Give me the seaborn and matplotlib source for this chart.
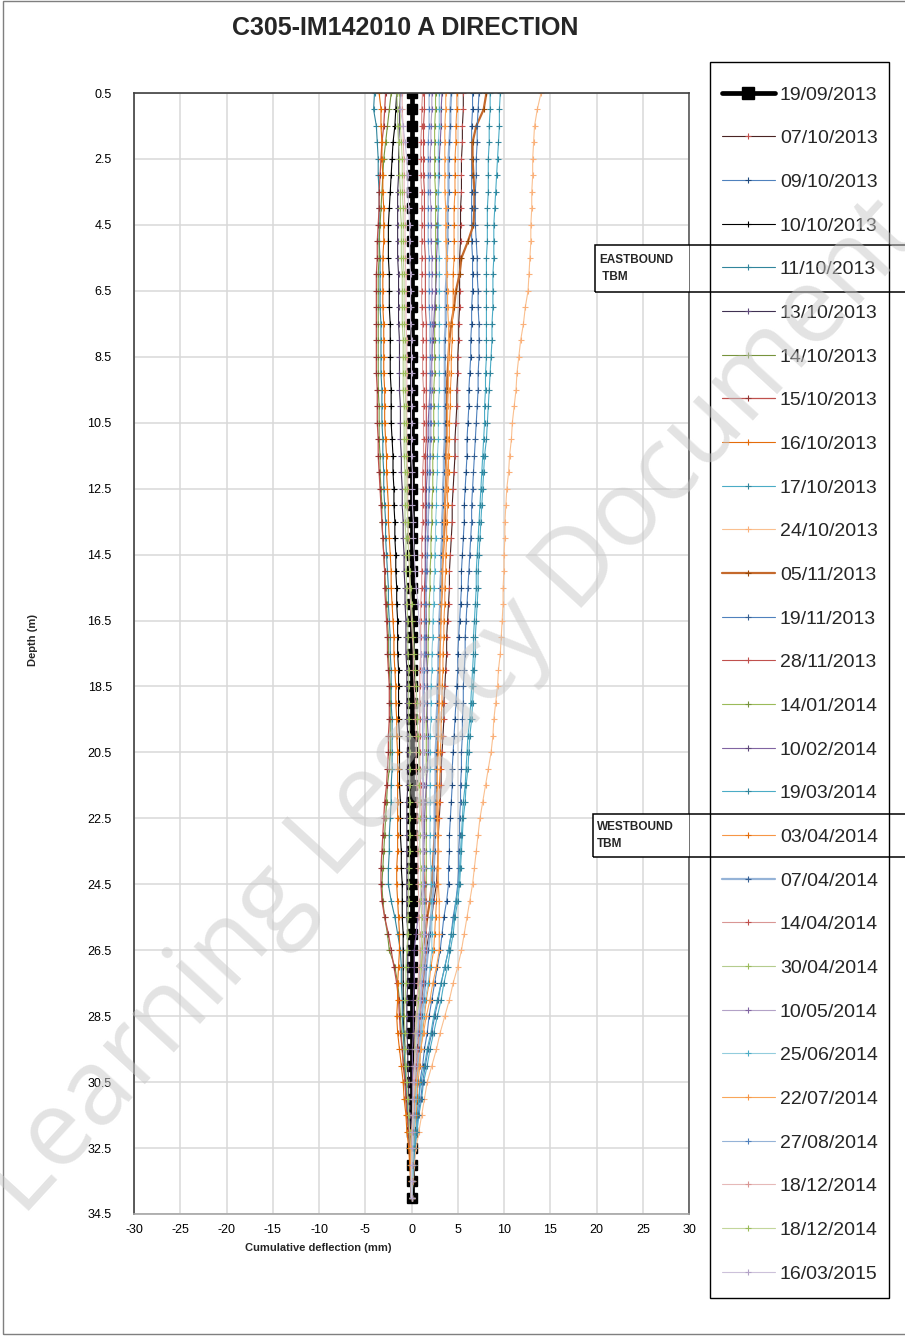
import numpy as np
import pandas as pd
import matplotlib
matplotlib.use("Agg")
import matplotlib.pyplot as plt
import seaborn as sns
from matplotlib.lines import Line2D
from matplotlib.patches import Rectangle

# reading depths (m), every 0.5 m from 0.5 to 34.0
DEPTH = np.arange(0.5, 34.01, 0.5)

DATES = ["19/09/2013", "07/10/2013", "09/10/2013", "10/10/2013", "11/10/2013",
         "13/10/2013", "14/10/2013", "15/10/2013", "16/10/2013", "17/10/2013",
         "24/10/2013", "05/11/2013", "19/11/2013", "28/11/2013", "14/01/2014",
         "10/02/2014", "19/03/2014", "03/04/2014", "07/04/2014", "14/04/2014",
         "30/04/2014", "10/05/2014", "25/06/2014", "22/07/2014", "27/08/2014",
         "18/12/2014", "18/12/2014", "16/03/2015"]

# cumulative deflection (mm) per reading, rows = 0.5-8.5 / 9-17 / 17.5-25.5 / 26-34 m
s19_09_13 = [0.0, 0.0, 0.0, 0.0, 0.0, 0.0, 0.0, 0.0, 0.0, 0.0, 0.0, 0.0, 0.0, 0.0, 0.0, 0.0, 0.0,
             0.0, 0.0, 0.0, 0.0, 0.0, 0.0, 0.0, 0.0, 0.0, 0.0, 0.0, 0.0, 0.0, 0.0, 0.0, 0.0, 0.0,
             0.0, 0.0, 0.0, 0.0, 0.0, 0.0, 0.0, 0.0, 0.0, 0.0, 0.0, 0.0, 0.0, 0.0, 0.0, 0.0, 0.0,
             0.0, 0.0, 0.0, 0.0, 0.0, 0.0, 0.0, 0.0, 0.0, 0.0, 0.0, 0.0, 0.0, 0.0, 0.0, 0.0, 0.0]
s07_10_13 = [5.6, 5.6, 5.5, 5.5, 5.4, 5.4, 5.4, 5.3, 5.3, 5.3, 5.2, 5.2, 5.2, 5.2, 5.1, 5.1, 5.0,
             5.0, 4.9, 4.9, 4.8, 4.7, 4.7, 4.6, 4.5, 4.4, 4.4, 4.3, 4.2, 4.1, 4.1, 4.0, 3.9, 3.8,
             3.8, 3.7, 3.6, 3.5, 3.5, 3.4, 3.3, 3.2, 3.2, 3.1, 3.0, 2.9, 2.9, 2.8, 2.7, 2.4, 2.2,
             1.9, 1.6, 1.4, 1.3, 1.1, 0.9, 0.8, 0.7, 0.5, 0.4, 0.3, 0.3, 0.2, 0.1, 0.1, 0.0, 0.0]
s09_10_13 = [6.6, 6.6, 6.5, 6.5, 6.5, 6.5, 6.5, 6.5, 6.5, 6.5, 6.6, 6.6, 6.6, 6.5, 6.5, 6.4, 6.4,
             6.3, 6.2, 6.2, 6.1, 6.0, 6.0, 5.9, 5.8, 5.7, 5.7, 5.6, 5.5, 5.4, 5.4, 5.3, 5.2, 5.1,
             5.0, 5.0, 4.9, 4.8, 4.7, 4.6, 4.5, 4.4, 4.4, 4.3, 4.2, 4.1, 4.1, 4.0, 4.0, 3.8, 3.5,
             3.3, 3.1, 2.8, 2.5, 2.2, 1.9, 1.7, 1.4, 1.2, 0.9, 0.8, 0.6, 0.5, 0.3, 0.2, 0.1, 0.0]
s10_10_13 = [-1.6, -1.7, -1.8, -2.0, -2.1, -2.2, -2.3, -2.4, -2.5, -2.5, -2.5, -2.4, -2.4, -2.4, -2.3, -2.3, -2.3,
             -2.3, -2.2, -2.2, -2.2, -2.1, -2.0, -2.0, -1.9, -1.9, -1.8, -1.8, -1.7, -1.7, -1.6, -1.6, -1.5, -1.5,
             -1.5, -1.4, -1.4, -1.4, -1.4, -1.3, -1.3, -1.3, -1.3, -1.2, -1.2, -1.2, -1.1, -1.1, -1.0, -1.0, -1.0,
             -0.9, -0.9, -0.9, -0.9, -0.9, -0.9, -0.8, -0.7, -0.7, -0.6, -0.5, -0.4, -0.3, -0.2, -0.1, -0.1, 0.0]
s11_10_13 = [-4.0, -4.1, -3.8, -3.7, -3.6, -3.6, -3.5, -3.5, -3.5, -3.5, -3.4, -3.4, -3.4, -3.4, -3.3, -3.3, -3.3,
             -3.3, -3.2, -3.2, -3.2, -3.1, -3.1, -3.0, -3.0, -2.9, -2.8, -2.8, -2.7, -2.6, -2.5, -2.5, -2.4, -2.3,
             -2.3, -2.2, -2.2, -2.2, -2.1, -2.1, -2.1, -2.1, -2.2, -2.2, -2.3, -2.4, -2.4, -2.5, -2.5, -2.2, -1.8,
             -1.5, -1.2, -1.1, -1.1, -1.0, -1.0, -0.9, -0.8, -0.7, -0.6, -0.5, -0.4, -0.3, -0.2, -0.1, -0.1, 0.0]
s13_10_13 = [-1.2, -1.3, -1.3, -1.4, -1.4, -1.4, -1.5, -1.5, -1.5, -1.5, -1.5, -1.4, -1.4, -1.4, -1.4, -1.3, -1.3,
             -1.3, -1.3, -1.2, -1.2, -1.2, -1.1, -1.1, -1.0, -1.0, -0.9, -0.9, -0.8, -0.8, -0.7, -0.7, -0.6, -0.6,
             -0.6, -0.5, -0.5, -0.5, -0.5, -0.4, -0.4, -0.4, -0.4, -0.5, -0.5, -0.5, -0.5, -0.5, -0.5, -0.5, -0.5,
             -0.4, -0.4, -0.4, -0.4, -0.5, -0.5, -0.5, -0.4, -0.4, -0.3, -0.3, -0.2, -0.2, -0.1, -0.1, 0.0, 0.0]
s14_10_13 = [-2.2, -2.4, -2.6, -2.8, -3.0, -3.1, -3.2, -3.3, -3.4, -3.5, -3.5, -3.6, -3.6, -3.6, -3.6, -3.6, -3.6,
             -3.6, -3.6, -3.5, -3.5, -3.5, -3.4, -3.4, -3.3, -3.2, -3.2, -3.1, -3.0, -2.9, -2.8, -2.7, -2.6, -2.5,
             -2.5, -2.4, -2.3, -2.3, -2.3, -2.3, -2.3, -2.4, -2.6, -2.7, -2.8, -2.9, -3.0, -3.1, -3.2, -3.1, -2.9,
             -2.6, -2.4, -1.8, -1.5, -1.3, -1.2, -1.1, -1.0, -0.8, -0.7, -0.6, -0.5, -0.3, -0.2, -0.1, -0.1, 0.0]
s15_10_13 = [-2.8, -2.9, -3.0, -3.2, -3.3, -3.4, -3.5, -3.5, -3.6, -3.7, -3.7, -3.8, -3.8, -3.8, -3.8, -3.8, -3.8,
             -3.8, -3.7, -3.7, -3.7, -3.6, -3.6, -3.5, -3.4, -3.3, -3.2, -3.1, -3.0, -2.9, -2.9, -2.8, -2.7, -2.6,
             -2.6, -2.5, -2.4, -2.4, -2.4, -2.5, -2.5, -2.6, -2.7, -2.9, -3.0, -3.1, -3.2, -3.3, -3.3, -3.2, -2.9,
             -2.5, -2.2, -1.9, -1.6, -1.4, -1.3, -1.2, -1.0, -0.9, -0.7, -0.6, -0.5, -0.3, -0.2, -0.1, -0.1, 0.0]
s16_10_13 = [-3.5, -3.3, -3.3, -3.2, -3.2, -3.1, -3.1, -3.0, -3.0, -3.0, -3.1, -3.1, -3.1, -3.1, -3.0, -3.0, -3.0,
             -3.0, -2.9, -2.9, -2.9, -2.8, -2.7, -2.7, -2.6, -2.5, -2.5, -2.4, -2.3, -2.2, -2.2, -2.1, -2.0, -1.9,
             -1.9, -1.8, -1.7, -1.7, -1.6, -1.6, -1.5, -1.5, -1.5, -1.5, -1.5, -1.5, -1.5, -1.6, -1.6, -1.5, -1.4,
             -1.3, -1.3, -1.4, -1.5, -1.5, -1.6, -1.5, -1.3, -1.1, -0.9, -0.8, -0.6, -0.5, -0.3, -0.2, -0.1, 0.0]
s17_10_13 = [9.6, 9.5, 9.5, 9.4, 9.3, 9.2, 9.1, 9.0, 8.9, 8.9, 8.9, 8.8, 8.8, 8.8, 8.7, 8.7, 8.6,
             8.5, 8.4, 8.3, 8.2, 8.1, 7.9, 7.8, 7.7, 7.6, 7.5, 7.4, 7.3, 7.2, 7.2, 7.1, 7.0, 6.9,
             6.9, 6.8, 6.7, 6.6, 6.5, 6.3, 6.2, 6.1, 5.9, 5.8, 5.6, 5.5, 5.4, 5.3, 5.2, 5.0, 4.7,
             4.5, 4.2, 3.9, 3.5, 3.2, 2.8, 2.4, 2.0, 1.7, 1.3, 1.1, 0.8, 0.6, 0.4, 0.3, 0.1, 0.0]
s24_10_13 = [14.0, 13.6, 13.3, 13.2, 13.1, 13.1, 13.0, 13.0, 12.9, 12.9, 12.8, 12.7, 12.6, 12.3, 12.1, 11.8, 11.6,
             11.4, 11.3, 11.1, 10.9, 10.8, 10.6, 10.5, 10.3, 10.2, 10.1, 10.1, 10.0, 10.0, 9.9, 9.9, 9.8, 9.7,
             9.6, 9.4, 9.3, 9.1, 8.9, 8.8, 8.6, 8.3, 8.0, 7.7, 7.4, 7.2, 7.0, 6.8, 6.6, 6.3, 6.0,
             5.7, 5.4, 5.0, 4.5, 4.1, 3.6, 3.1, 2.7, 2.2, 1.7, 1.4, 1.1, 0.8, 0.5, 0.3, 0.2, 0.0]
s05_11_13 = [8.1, 7.8, 7.0, 6.6, 6.6, 6.7, 6.8, 6.8, 6.7, 6.1, 5.4, 5.2, 4.8, 4.6, 4.3, 4.1, 4.0,
             3.9, 3.8, 3.8, 3.7, 3.7, 3.7, 3.8, 3.7, 3.6, 3.6, 3.5, 3.4, 3.3, 3.3, 3.2, 3.1, 3.1,
             3.0, 3.0, 3.0, 2.9, 2.9, 2.8, 2.8, 2.7, 2.7, 2.6, 2.6, 2.5, 2.4, 2.3, 2.2, 2.0, 1.7,
             1.5, 1.2, 1.0, 0.9, 0.7, 0.6, 0.5, 0.4, 0.4, 0.3, 0.2, 0.2, 0.1, 0.1, 0.1, 0.0, 0.0]
s19_11_13 = [7.3, 7.2, 7.1, 7.1, 7.0, 7.0, 6.9, 6.9, 6.9, 7.0, 7.1, 7.1, 7.2, 7.2, 7.3, 7.3, 7.3,
             7.2, 7.2, 7.1, 7.0, 6.9, 6.8, 6.7, 6.6, 6.5, 6.5, 6.4, 6.3, 6.2, 6.1, 6.0, 5.9, 5.8,
             5.8, 5.7, 5.6, 5.6, 5.5, 5.5, 5.4, 5.4, 5.3, 5.3, 5.2, 5.2, 5.1, 5.1, 5.0, 4.8, 4.5,
             4.3, 4.0, 3.6, 3.2, 2.9, 2.5, 2.2, 1.8, 1.5, 1.2, 1.0, 0.7, 0.5, 0.3, 0.2, 0.1, 0.0]
s28_11_13 = [1.4, 1.4, 1.3, 1.3, 1.3, 1.3, 1.4, 1.4, 1.4, 1.4, 1.5, 1.5, 1.5, 1.5, 1.6, 1.6, 1.6,
             1.6, 1.6, 1.6, 1.6, 1.6, 1.5, 1.5, 1.5, 1.5, 1.5, 1.5, 1.5, 1.5, 1.4, 1.4, 1.4, 1.4,
             1.4, 1.3, 1.3, 1.3, 1.3, 1.2, 1.2, 1.2, 1.2, 1.3, 1.3, 1.3, 1.3, 1.4, 1.4, 1.4, 1.4,
             1.3, 1.3, 1.2, 1.0, 0.9, 0.7, 0.6, 0.5, 0.4, 0.3, 0.3, 0.2, 0.2, 0.1, 0.1, 0.0, 0.0]
s14_01_14 = [2.6, 2.6, 2.5, 2.5, 2.5, 2.5, 2.6, 2.6, 2.6, 2.6, 2.6, 2.6, 2.6, 2.6, 2.5, 2.5, 2.5,
             2.5, 2.4, 2.4, 2.4, 2.4, 2.3, 2.3, 2.3, 2.2, 2.2, 2.1, 2.1, 2.0, 2.0, 1.9, 1.9, 1.8,
             1.8, 1.7, 1.7, 1.7, 1.6, 1.6, 1.6, 1.6, 1.6, 1.6, 1.6, 1.6, 1.6, 1.6, 1.6, 1.5, 1.4,
             1.3, 1.2, 1.1, 0.9, 0.8, 0.7, 0.6, 0.5, 0.4, 0.3, 0.3, 0.2, 0.2, 0.1, 0.1, 0.0, 0.0]
s10_02_14 = [3.3, 3.2, 3.2, 3.1, 3.0, 3.0, 2.9, 2.9, 2.8, 2.8, 2.7, 2.7, 2.6, 2.5, 2.4, 2.3, 2.2,
             2.1, 2.0, 1.9, 1.8, 1.8, 1.7, 1.7, 1.6, 1.6, 1.6, 1.5, 1.5, 1.5, 1.5, 1.6, 1.6, 1.6,
             1.6, 1.7, 1.7, 1.7, 1.7, 1.8, 1.8, 1.7, 1.6, 1.5, 1.4, 1.4, 1.3, 1.3, 1.2, 1.0, 0.7,
             0.5, 0.3, 0.3, 0.3, 0.2, 0.2, 0.2, 0.1, 0.1, 0.1, 0.1, 0.1, 0.0, 0.0, 0.0, 0.0, 0.0]
s19_03_14 = [8.5, 8.5, 8.4, 8.4, 8.3, 8.3, 8.3, 8.2, 8.2, 8.2, 8.1, 8.1, 8.1, 8.1, 8.1, 8.1, 8.1,
             8.0, 8.0, 7.9, 7.9, 7.8, 7.7, 7.6, 7.5, 7.4, 7.3, 7.2, 7.1, 7.0, 7.0, 6.9, 6.8, 6.7,
             6.7, 6.6, 6.5, 6.4, 6.3, 6.1, 6.0, 5.9, 5.8, 5.6, 5.5, 5.4, 5.3, 5.2, 5.1, 4.8, 4.6,
             4.3, 4.0, 3.6, 3.2, 2.8, 2.4, 2.1, 1.7, 1.4, 1.0, 0.8, 0.6, 0.5, 0.3, 0.2, 0.1, 0.0]
s03_04_14 = [4.9, 4.9, 4.8, 4.8, 4.7, 4.7, 4.7, 4.6, 4.6, 4.6, 4.6, 4.5, 4.5, 4.5, 4.4, 4.4, 4.3,
             4.3, 4.2, 4.2, 4.1, 4.1, 4.0, 4.0, 3.9, 3.9, 3.8, 3.8, 3.7, 3.7, 3.6, 3.6, 3.5, 3.5,
             3.4, 3.4, 3.3, 3.3, 3.2, 3.2, 3.1, 3.1, 3.0, 3.0, 2.9, 2.9, 2.9, 2.8, 2.8, 2.7, 2.6,
             2.5, 2.4, 2.1, 1.9, 1.6, 1.4, 1.2, 1.0, 0.9, 0.7, 0.6, 0.5, 0.3, 0.2, 0.1, 0.1, 0.0]
s07_04_14 = [4.3, 4.2, 4.2, 4.1, 4.0, 4.0, 4.0, 3.9, 3.9, 3.9, 3.8, 3.8, 3.7, 3.7, 3.7, 3.6, 3.6,
             3.6, 3.6, 3.6, 3.6, 3.6, 3.5, 3.5, 3.4, 3.4, 3.3, 3.3, 3.2, 3.2, 3.1, 3.1, 3.0, 3.0,
             2.9, 2.9, 2.8, 2.8, 2.7, 2.7, 2.6, 2.6, 2.6, 2.5, 2.5, 2.5, 2.5, 2.4, 2.4, 2.3, 2.1,
             2.0, 1.8, 1.6, 1.5, 1.3, 1.1, 1.0, 0.8, 0.7, 0.5, 0.4, 0.3, 0.2, 0.1, 0.1, 0.0, 0.0]
s14_04_14 = [1.2, 1.1, 1.1, 1.0, 1.0, 1.0, 1.1, 1.1, 1.1, 1.1, 1.1, 1.1, 1.1, 1.1, 1.2, 1.2, 1.2,
             1.2, 1.3, 1.3, 1.3, 1.3, 1.3, 1.2, 1.2, 1.2, 1.2, 1.1, 1.1, 1.1, 1.1, 1.0, 1.0, 1.0,
             1.0, 0.9, 0.9, 0.9, 0.9, 0.9, 0.9, 0.9, 1.0, 1.0, 1.1, 1.2, 1.3, 1.4, 1.5, 1.6, 1.6,
             1.6, 1.6, 1.4, 1.2, 1.1, 0.9, 0.8, 0.7, 0.5, 0.4, 0.3, 0.3, 0.2, 0.1, 0.1, 0.0, 0.0]
s30_04_14 = [-1.6, -1.5, -1.5, -1.4, -1.3, -1.3, -1.2, -1.2, -1.1, -1.1, -1.1, -1.0, -1.0, -1.0, -1.0, -0.9, -0.9,
             -0.9, -0.9, -0.8, -0.8, -0.8, -0.8, -0.7, -0.7, -0.7, -0.7, -0.6, -0.6, -0.6, -0.5, -0.5, -0.4, -0.4,
             -0.4, -0.3, -0.3, -0.3, -0.3, -0.2, -0.2, -0.2, -0.2, -0.2, -0.2, -0.2, -0.2, -0.3, -0.3, -0.3, -0.4,
             -0.4, -0.5, -0.6, -0.6, -0.7, -0.8, -0.7, -0.7, -0.6, -0.5, -0.4, -0.3, -0.2, -0.1, -0.1, 0.0, 0.0]
s10_05_14 = [2.2, 2.2, 2.1, 2.1, 2.0, 2.0, 2.0, 2.1, 2.1, 2.1, 2.2, 2.2, 2.2, 2.2, 2.2, 2.2, 2.2,
             2.2, 2.2, 2.1, 2.1, 2.1, 2.0, 2.0, 1.9, 1.9, 1.8, 1.8, 1.7, 1.7, 1.6, 1.6, 1.5, 1.5,
             1.5, 1.4, 1.4, 1.4, 1.4, 1.3, 1.3, 1.3, 1.3, 1.3, 1.3, 1.3, 1.3, 1.3, 1.3, 1.2, 1.1,
             1.1, 1.0, 0.9, 0.8, 0.6, 0.5, 0.4, 0.4, 0.3, 0.2, 0.2, 0.1, 0.1, 0.1, 0.0, 0.0, 0.0]
s25_06_14 = [3.0, 3.0, 3.0, 2.9, 2.9, 2.9, 2.9, 2.9, 2.9, 2.9, 3.0, 3.0, 3.0, 3.0, 3.0, 3.0, 3.0,
             3.0, 3.0, 2.9, 2.9, 2.9, 2.8, 2.8, 2.7, 2.7, 2.6, 2.6, 2.5, 2.5, 2.4, 2.4, 2.3, 2.3,
             2.2, 2.2, 2.1, 2.1, 2.1, 2.0, 2.0, 2.0, 2.0, 2.0, 2.0, 2.0, 2.0, 2.1, 2.1, 2.1, 2.2,
             2.2, 2.2, 2.0, 1.8, 1.5, 1.3, 1.1, 1.0, 0.8, 0.6, 0.5, 0.4, 0.3, 0.2, 0.1, 0.1, 0.0]
s22_07_14 = [3.7, 3.7, 3.6, 3.6, 3.6, 3.6, 3.6, 3.7, 3.7, 3.7, 3.8, 3.8, 3.9, 3.9, 4.0, 4.0, 4.0,
             4.0, 4.0, 3.9, 3.9, 3.9, 3.8, 3.8, 3.7, 3.6, 3.5, 3.5, 3.4, 3.3, 3.3, 3.2, 3.2, 3.1,
             3.1, 3.0, 3.0, 3.0, 2.9, 2.9, 2.9, 2.8, 2.8, 2.8, 2.8, 2.8, 2.9, 2.9, 2.9, 3.0, 3.0,
             3.0, 3.0, 2.7, 2.3, 2.0, 1.6, 1.3, 1.0, 0.8, 0.5, 0.3, 0.2, 0.0, -0.1, -0.1, 0.0, 0.0]
s27_08_14 = [1.9, 1.9, 1.9, 1.8, 1.8, 1.8, 1.8, 1.8, 1.8, 1.8, 1.9, 1.9, 1.9, 1.9, 2.0, 2.0, 2.0,
             2.0, 2.0, 2.0, 2.0, 2.0, 2.0, 1.9, 1.9, 1.8, 1.8, 1.7, 1.7, 1.6, 1.6, 1.5, 1.5, 1.4,
             1.4, 1.3, 1.3, 1.3, 1.2, 1.2, 1.2, 1.2, 1.2, 1.2, 1.2, 1.2, 1.2, 1.3, 1.3, 1.4, 1.4,
             1.5, 1.5, 1.3, 1.1, 1.0, 0.8, 0.7, 0.5, 0.4, 0.3, 0.2, 0.2, 0.1, 0.1, 0.0, 0.0, 0.0]
s18_12_14a = [-1.0, -1.0, -0.9, -0.9, -0.8, -0.8, -0.8, -0.7, -0.7, -0.7, -0.7, -0.6, -0.6, -0.6, -0.6, -0.5, -0.5,
              -0.5, -0.5, -0.5, -0.5, -0.5, -0.5, -0.4, -0.4, -0.4, -0.4, -0.3, -0.3, -0.2, -0.2, -0.1, 0.0, 0.1,
              0.2, 0.2, 0.3, 0.4, 0.4, 0.5, 0.5, 0.5, 0.6, 0.6, 0.6, 0.6, 0.7, 0.7, 0.7, 0.8, 0.8,
              0.9, 0.9, 0.8, 0.7, 0.6, 0.5, 0.4, 0.4, 0.3, 0.2, 0.2, 0.1, 0.1, 0.1, 0.0, 0.0, 0.0]
s18_12_14b = [-1.3, -1.2, -1.2, -1.1, -1.0, -1.0, -1.0, -0.9, -0.9, -0.9, -0.9, -0.8, -0.8, -0.8, -0.8, -0.7, -0.7,
              -0.7, -0.7, -0.6, -0.6, -0.6, -0.6, -0.5, -0.5, -0.5, -0.4, -0.4, -0.3, -0.2, -0.1, 0.0, 0.1, 0.2,
              0.3, 0.4, 0.5, 0.6, 0.6, 0.7, 0.8, 0.8, 0.8, 0.9, 0.9, 0.9, 0.9, 1.0, 1.0, 1.0, 1.1,
              1.1, 1.1, 1.0, 0.9, 0.7, 0.6, 0.5, 0.4, 0.4, 0.3, 0.2, 0.2, 0.1, 0.1, 0.0, 0.0, 0.0]
s16_03_15 = [-1.1, -1.2, -0.9, -0.7, -0.5, -0.4, -0.4, -0.3, -0.2, -0.2, -0.2, -0.1, -0.1, -0.1, -0.1, 0.0, 0.0,
             0.0, 0.0, 0.0, 0.0, 0.0, 0.0, 0.1, 0.1, 0.1, 0.2, 0.2, 0.3, 0.4, 0.5, 0.7, 0.8, 0.9,
             1.0, 1.1, 1.2, 1.2, 1.3, 1.3, 1.3, 1.3, 1.2, 1.2, 1.2, 1.2, 1.2, 1.2, 1.2, 1.2, 1.3,
             1.3, 1.3, 1.2, 1.0, 0.9, 0.7, 0.6, 0.5, 0.4, 0.3, 0.2, 0.2, 0.1, 0.1, 0.0, 0.0, 0.0]

SERIES = [s19_09_13, s07_10_13, s09_10_13, s10_10_13, s11_10_13, s13_10_13, s14_10_13,
          s15_10_13, s16_10_13, s17_10_13, s24_10_13, s05_11_13, s19_11_13, s28_11_13,
          s14_01_14, s10_02_14, s19_03_14, s03_04_14, s07_04_14, s14_04_14, s30_04_14,
          s10_05_14, s25_06_14, s22_07_14, s27_08_14, s18_12_14a, s18_12_14b, s16_03_15]
for s in SERIES:
    assert len(s) == len(DEPTH), len(s)

# line colour, marker colour, line width
STYLE = [("#000000", "#000000", 3.4), ("#4a2423", "#c0504d", 0.8), ("#4f81bd", "#1f497d", 0.8),
         ("#000000", "#000000", 0.8), ("#31859c", "#31859c", 0.8), ("#403152", "#5f497a", 0.8),
         ("#77933c", "#77933c", 0.8), ("#c0504d", "#953735", 0.9), ("#e46c0a", "#e46c0a", 0.8),
         ("#4bacc6", "#31859c", 0.8), ("#fac090", "#fab07a", 0.8), ("#c4692c", "#984807", 1.6),
         ("#4f81bd", "#376092", 0.8), ("#c0504d", "#c0504d", 0.8), ("#9bbb59", "#77933c", 0.8),
         ("#8064a2", "#5f497a", 0.8), ("#4bacc6", "#31859c", 0.8), ("#f79646", "#e46c0a", 0.8),
         ("#95b3d7", "#376092", 1.6), ("#d99694", "#c0504d", 0.8), ("#b5cc8e", "#9bbb59", 0.8),
         ("#b3a2c7", "#8064a2", 0.8), ("#93cddd", "#4bacc6", 0.8), ("#f9a65a", "#f79646", 0.8),
         ("#95b3d7", "#4f81bd", 0.8), ("#e6b9b8", "#d99694", 0.8), ("#c3d69b", "#9bbb59", 0.8),
         ("#ccc1da", "#b3a2c7", 0.8)]

sns.set_style("white")
plt.rcParams["font.family"] = ["Liberation Sans", "DejaVu Sans"]
plt.rcParams["axes.unicode_minus"] = False

W, H = 905, 1336
fig = plt.figure(figsize=(W / 100, H / 100), dpi=100)


def fx(px):
    return px / W


def fy(py):
    return 1 - py / H


ax = fig.add_axes([fx(134), fy(1214), fx(689 - 134), (1214 - 93) / H])

handles = []
for i, (date, vals) in enumerate(zip(DATES, SERIES)):
    lc, mc, lw = STYLE[i]
    mk, ms, mew = ("s", 7, 1.0) if i == 0 else ("+", 5, 0.8)
    sub = pd.DataFrame({"Deflection": vals, "Depth": DEPTH})
    sns.lineplot(data=sub, x="Deflection", y="Depth", orient="y", sort=False,
                 estimator=None, color=lc, linewidth=lw, marker=mk, markersize=ms,
                 markeredgecolor=mc, markerfacecolor=mc, markeredgewidth=mew,
                 legend=False, ax=ax, zorder=2 + i * 0.01)
    handles.append(Line2D([], [], color=lc, lw=lw, marker=mk,
                          ms=8 if i == 0 else 5, mec=mc, mfc=mc, mew=mew))

ax.set_xlim(-30, 30)
ax.set_ylim(34.5, 0.5)
ax.set_xticks(range(-30, 31, 5))
ax.set_yticks(np.arange(0.5, 34.6, 2.0))
ax.set_yticklabels([f"{v:.1f}" for v in np.arange(0.5, 34.6, 2.0)])
ax.set_xlabel("")
ax.set_ylabel("")
ax.grid(True, color="#d9d9d9", lw=1.1)
ax.set_axisbelow(True)
ax.tick_params(length=0, labelsize=9, colors="black")
ax.tick_params(axis="y", pad=16)
ax.tick_params(axis="x", pad=7)
for side, col in [("top", "#404040"), ("left", "#404040"), ("right", "#595959"), ("bottom", "#a6a6a6")]:
    ax.spines[side].set_color(col)
    ax.spines[side].set_linewidth(1.2)

fig.text(fx(405), fy(28), "C305-IM142010 A DIRECTION", ha="center", va="center",
         fontsize=18, fontweight="bold")
fig.text(fx(33), fy(640), "Depth (m)", rotation=90, ha="center", va="center",
         fontsize=8, fontweight="bold")
fig.text(fx(318), fy(1248), "Cumulative deflection (mm)", ha="center", va="center",
         fontsize=8, fontweight="bold")

# legend, with its own frame
fig.legend(handles, DATES, loc="upper left", bbox_to_anchor=(fx(722), fy(86)),
           frameon=False, borderpad=0, borderaxespad=0, fontsize=14,
           handlelength=2.7, handletextpad=0.28, labelspacing=1.34, numpoints=1)
fig.add_artist(Rectangle((fx(710), fy(1298)), fx(179), (1298 - 62) / H,
                         transform=fig.transFigure, fill=False, ec="black", lw=1))

# tunnel boring machine notes
for label, x0, y0, y1, tx in [("EASTBOUND\n TBM", 595, 245, 292, 599),
                              ("WESTBOUND\nTBM", 593, 814, 857, 597)]:
    fig.add_artist(Rectangle((fx(x0), fy(y1)), fx(689 - x0), (y1 - y0) / H,
                             transform=fig.transFigure, fc="white", ec="none", zorder=3))
    fig.add_artist(Rectangle((fx(x0), fy(y1)), fx(915 - x0), (y1 - y0) / H,
                             transform=fig.transFigure, fill=False, ec="black", lw=1.1, zorder=6))
    fig.text(fx(tx), fy((y0 + y1) / 2), label, ha="left", va="center", fontsize=8.5,
             fontweight="bold", linespacing=1.45, zorder=7)

# page border
fig.add_artist(Rectangle((fx(3), fy(1334)), fx(905), (1334 - 1) / H,
                         transform=fig.transFigure, fill=False, ec="#7f7f7f", lw=1))

# watermark
fig.text(0.5, 0.47, "Learning Legacy Document", rotation=47.5, ha="center", va="center",
         fontsize=76, color="#c8c8c8", alpha=0.5, family="Open Sans", zorder=10)

fig.savefig("out.png", dpi=100)
